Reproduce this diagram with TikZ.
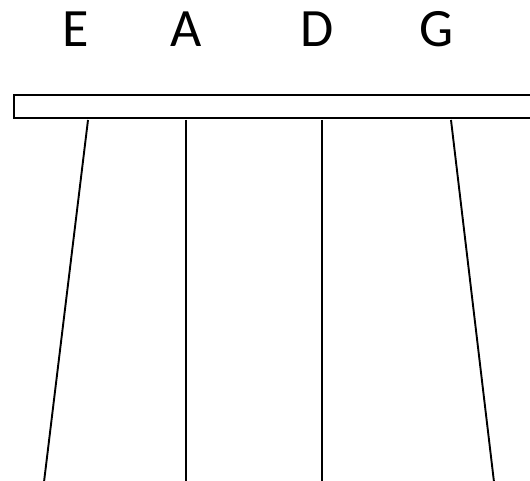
\documentclass[tikz,border=0pt]{standalone}
\usepackage{fontspec}
\setmainfont{Carlito}
\usetikzlibrary{positioning}

\begin{document}
\begin{tikzpicture}[
    x=1pt, y=-1pt,
    note/.style={font=\fontsize{54}{60}\selectfont, inner sep=0pt, anchor=base},
    nut/.style={rectangle, draw, line width=1.9pt, inner sep=0pt,
                minimum width=540pt, minimum height=23pt, anchor=north west},
    string/.style={line width=1.9pt}]
\useasboundingbox (0,0) rectangle (530,481);
\clip (0,0) rectangle (530,481);

\node[note] (E) at (76,47) {E};
\node[note] (A) at (186.5,47) {A};
\node[note] (D) at (316.7,47) {D};
\node[note] (G) at (436.7,47) {G};

\node[nut] (nut) at (13,94) {};

% strings below the nut
\foreach \name/\tx/\bx in {E/88/44, A/186/186, D/322/322, G/451/494} {
  \coordinate (\name top) at (\tx,120);
  \coordinate (\name end) at (\bx,482);
  \draw[string] (\name top) -- (\name end);
}
\end{tikzpicture}
\end{document}
